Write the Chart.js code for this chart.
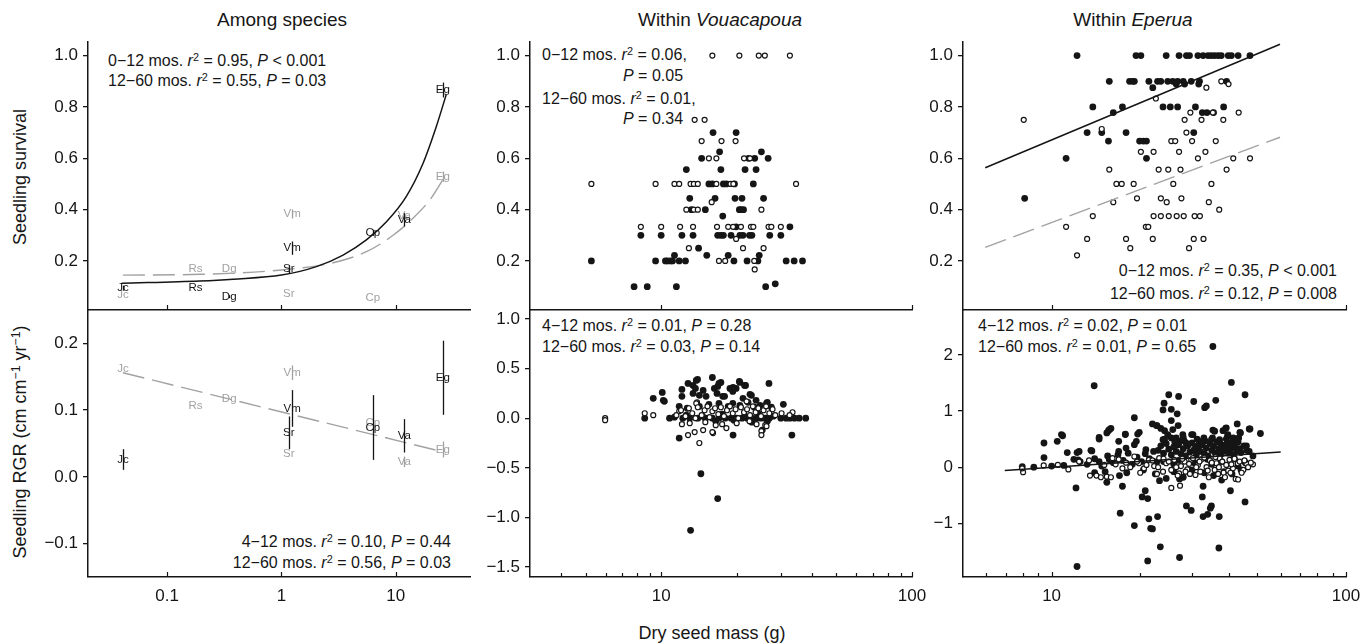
<!DOCTYPE html>
<html><head><meta charset="utf-8">
<script src="https://cdn.jsdelivr.net/npm/chart.js@4.4.1/dist/chart.umd.min.js"></script>
<style>
body{margin:0;width:1361px;height:643px;background:#fff;position:relative;overflow:hidden;font-family:"Liberation Sans",Arial,Helvetica,sans-serif;color:#161616}
canvas{position:absolute}
.t{position:absolute;white-space:nowrap;font-size:16px;line-height:1}
.l{transform:translateY(-50%)}
.r{transform:translate(-100%,-50%)}
.c{transform:translate(-50%,-50%)}
.h{font-size:18px}
.ht{font-size:19px}
.v{transform:translate(-50%,-50%) rotate(-90deg);font-size:18px}
sup{font-size:0.68em;vertical-align:0.5em;line-height:0}
</style></head><body>
<div class="t c ht" style="left:282px;top:19px">Among species</div>
<div class="t c ht" style="left:720px;top:19px">Within <i>Vouacapoua</i></div>
<div class="t c ht" style="left:1133px;top:19px">Within <i>Eperua</i></div>
<div class="t v" style="left:20px;top:177px">Seedling survival</div>
<div class="t v" style="left:20px;top:442px">Seedling RGR (cm cm<sup>−1</sup> yr<sup>−1</sup>)</div>
<div class="t c h" style="left:712px;top:633px">Dry seed mass (g)</div>

<div class="t l" style="left:108px;top:61px">0−12 mos. <i>r</i><sup>2</sup> = 0.95, <i>P</i> &lt; 0.001</div>
<div class="t l" style="left:108px;top:81px">12−60 mos. <i>r</i><sup>2</sup> = 0.55, <i>P</i> = 0.03</div>
<div class="t r" style="left:451px;top:542px">4−12 mos. <i>r</i><sup>2</sup> = 0.10, <i>P</i> = 0.44</div>
<div class="t r" style="left:451px;top:563px">12−60 mos. <i>r</i><sup>2</sup> = 0.56, <i>P</i> = 0.03</div>

<div class="t l" style="left:542px;top:55px">0−12 mos. <i>r</i><sup>2</sup> = 0.06,</div>
<div class="t l" style="left:623px;top:76px"><i>P</i> = 0.05</div>
<div class="t l" style="left:542px;top:99px">12−60 mos. <i>r</i><sup>2</sup> = 0.01,</div>
<div class="t l" style="left:623px;top:119px"><i>P</i> = 0.34</div>
<div class="t l" style="left:542px;top:326px">4−12 mos. <i>r</i><sup>2</sup> = 0.01, <i>P</i> = 0.28</div>
<div class="t l" style="left:542px;top:347px">12−60 mos. <i>r</i><sup>2</sup> = 0.03, <i>P</i> = 0.14</div>

<div class="t r" style="left:1337px;top:271px">0−12 mos. <i>r</i><sup>2</sup> = 0.35, <i>P</i> &lt; 0.001</div>
<div class="t r" style="left:1337px;top:294px">12−60 mos. <i>r</i><sup>2</sup> = 0.12, <i>P</i> = 0.008</div>
<div class="t l" style="left:978px;top:326px">4−12 mos. <i>r</i><sup>2</sup> = 0.02, <i>P</i> = 0.01</div>
<div class="t l" style="left:978px;top:347px">12−60 mos. <i>r</i><sup>2</sup> = 0.01, <i>P</i> = 0.65</div>

<script>
// ---------- tick values ----------
const leftXTicks = [0.1, 1, 10];
const vouXTicks = [10, 100];
const vouXMinor = [4,5,6,7,8,9,20,30,40,50,60,70,80,90];
const epeXTicks = [10, 100];
const epeXMinor = [6,7,8,9,20,30,40,50,60,70,80,90];
const survYTicks = [0.2, 0.4, 0.6, 0.8, 1.0];
const leftRgrYTicks = [-0.1, 0, 0.1, 0.2];
const vouRgrYTicks = [-1.5, -1, -0.5, 0, 0.5, 1];
const epeRgrYTicks = [-1, 0, 1, 2];

// ---------- among species ----------
const speciesCodes = ['Jc','Rs','Dg','Sr','Vm','Cp','Va','Eg'];
const speciesMass = [0.041, 0.177, 0.349, 1.16, 1.24, 6.3, 11.9, 25.8];
const surv0_12 = [0.094, 0.097, 0.061, 0.168, 0.25, 0.31, 0.36, 0.866];
const surv0_12Err = [0.01, 0, 0.006, 0.015, 0.026, 0.012, 0.026, 0.029];
const surv12_60 = [0.067, 0.168, 0.168, 0.071, 0.383, 0.058, 0.375, 0.528];
const surv12_60Err = [0, 0, 0, 0, 0.018, 0, 0.01, 0.02];
const rgr4_12 = [0.026, null, null, 0.066, 0.1025, 0.074, 0.0615, 0.1485];
const rgr4_12Err = [0.0155, 0, 0, 0.0245, 0.0275, 0.0485, 0.025, 0.0555];
const rgr12_60 = [0.1625, 0.1065, 0.1165, 0.035, 0.156, 0.081, 0.0225, 0.041];
const rgr12_60Err = [0, 0, 0, 0, 0.011, 0, 0.008, 0.012];
const survFit0_12 = [[0.04,0.113],[0.193,0.122],[0.378,0.129],[1.0,0.145],[2.02,0.178],[3.46,0.223],[5.53,0.282],[8.29,0.353],[12.3,0.45],[17.3,0.58],[22.6,0.723],[27.6,0.847]];
const survFit12_60 = [[0.041,0.145],[0.194,0.148],[1.0,0.165],[2.83,0.193],[5.53,0.236],[9.47,0.3],[14.1,0.366],[19.8,0.437],[25.8,0.516]];
const rgrFit12_60 = [[0.041,0.156],[25.8,0.0375]];

// ---------- Vouacapoua ----------
const vouSurv0_12 = [[5.27,0.2],[7.8,0.1],[8.8,0.1],[11.5,0.1],[26.1,0.1],[28.5,0.111],
[9.5,0.2],[10.4,0.2],[10.6,0.2],[10.9,0.2],[11.1,0.2],[11.8,0.2],[12.5,0.2],[19.5,0.2],[22.0,0.2],[24.3,0.2],[31.5,0.2],[33.9,0.2],[36.6,0.2],
[11.3,0.222],[15.2,0.222],[18.5,0.222],[24.6,0.222],[14.1,0.25],
[8.3,0.3],[10.0,0.3],[12.1,0.3],[13.4,0.3],[16.8,0.3],[17.3,0.3],[17.7,0.3],[19.0,0.3],[20.6,0.3],[21.2,0.3],[22.5,0.3],[23.0,0.3],[27.1,0.3],[30.0,0.3],
[19.9,0.333],[32.6,0.333],[17.6,0.375],
[13.2,0.4],[15.0,0.4],[20.5,0.4],[20.8,0.4],[21.3,0.4],
[13.0,0.444],[16.4,0.444],[19.7,0.444],[21.0,0.444],[25.6,0.444],
[15.5,0.5],[16.0,0.5],[17.7,0.5],[18.2,0.5],[19.6,0.5],[23.3,0.5],
[12.6,0.556],[17.3,0.556],[21.6,0.556],[23.9,0.556],
[14.5,0.6],[22.3,0.6],[23.6,0.6],[26.7,0.6],[17.1,0.625],[25.1,0.625],[16.1,0.7],[19.9,0.7]];
const vouSurv12_60 = [[16.0,1.0],[20.5,1.0],[24.5,1.0],[25.9,1.0],[32.6,1.0],
[13.6,0.75],[14.9,0.75],[14.5,0.667],[17.4,0.667],[19.8,0.667],
[15.5,0.6],[16.6,0.6],[21.4,0.6],[22.6,0.6],
[5.27,0.5],[9.5,0.5],[11.3,0.5],[11.8,0.5],[13.1,0.5],[13.5,0.5],[14.0,0.5],[16.6,0.5],[18.9,0.5],[19.4,0.5],[34.5,0.5],
[15.9,0.429],[12.6,0.4],[13.5,0.4],[14.0,0.4],[25.1,0.4],
[8.3,0.333],[10.0,0.333],[11.9,0.333],[13.4,0.333],[16.7,0.333],[18.5,0.333],[19.35,0.333],[20.8,0.333],[22.8,0.333],[23.3,0.333],[26.8,0.333],[27.5,0.333],[30.0,0.333],
[19.9,0.286],[12.9,0.25],[21.2,0.25],[25.6,0.25],
[17.0,0.2],[18.0,0.2],[23.5,0.2],[23.6,0.167]];
const vouRgr4_12 = [[13.1,-1.13],[16.8,-0.81],[14.4,-0.56],[11.8,-0.2],[19.35,-0.17],[33.2,-0.17],[25.3,-0.12],
[9.3,0.2],[10.1,0.26],[10.3,0.17],[12.1,0.29],[12.8,0.35],[13.4,0.33],[13.8,0.38],[13.97,0.39],[13.7,0.3],[14.7,0.28],[15.1,0.22],[16.0,0.41],[16.3,0.3],[16.8,0.32],[17.0,0.35],[17.3,0.36],[17.6,0.22],[18.8,0.3],[19.35,0.31],[19.9,0.3],[20.5,0.37],[20.6,0.36],[21.5,0.33],[21.7,0.33],[22.6,0.24],[22.9,0.23],[23.9,0.18],[26.3,0.15],[26.9,0.35],[26.5,0.16],[30.7,0.14],
[12.1,0.22],[13.4,0.25],[14.2,0.23],[16.7,0.25],[17.9,0.22],[19.3,0.27],[21.2,0.2],[19.3,0.15],[10.2,0.18],[11.8,0.12],[12.7,0.1],[14.2,0.12],[15.5,0.14],[17.0,0.15],[18.5,0.12],[20.6,0.13],[22.2,0.16],[23.5,0.11],[24.8,0.13],[27.5,0.11],
[8.6,0],[10.8,0],[11.3,0.01],[12.2,0],[13.0,0],[14.0,0],[15.0,0],[16.0,0],[17.0,0],[18.0,0],[19.0,0],[20.0,0],[21.0,0],[22.0,0],[23.0,0],[24.0,0],[25.0,0],[26.0,0],[27.0,0],[30.0,0],[31.5,0],[32.6,0],[34.0,0],[35.5,0],[37.7,0],
[12.6,0.03],[14.6,0.02],[17.5,0.04],[21.5,0.02],[24.5,0.04],[28.0,0.02],[16.5,-0.03],[19.5,-0.02],[23.0,-0.04],[26.5,-0.03]];
const vouRgr12_60 = [[5.98,0.0],[5.98,-0.02],[8.6,0.05],[9.3,0.03],[11.8,0.07],[12.1,-0.06],[12.8,-0.17],[13.6,-0.14],[14.2,-0.25],[13.9,0.16],[14.7,-0.12],[16.1,-0.15],[16.5,-0.07],[18.2,-0.1],[25.1,-0.13],[26.0,-0.07],[25.1,-0.17],[16.0,-0.14],[13.8,0.15],[21.9,0.17],
[11.5,0.03],[12.0,0.08],[12.5,0.02],[12.9,0.1],[13.3,0.05],[13.7,0.0],[14.0,0.11],[14.5,0.03],[14.9,0.08],[15.3,0.12],[15.6,0.01],[16.0,0.07],[16.4,0.1],[16.9,0.04],[17.3,0.11],[17.8,0.02],[18.3,0.08],[18.8,0.12],[19.3,0.05],[19.8,0.09],[20.3,0.0],[20.8,0.11],[21.4,0.06],[22.0,0.09],[22.6,0.03],[23.2,0.12],[23.8,0.06],[24.4,0.1],[25.0,0.02],[25.6,0.08],[26.2,0.12],[27.0,0.05],[27.8,0.09],[28.5,0.03],
[13.0,-0.05],[15.0,-0.04],[17.5,-0.06],[20.0,-0.05],[22.5,-0.03],[24.0,-0.06],[30.2,0.05],[33.4,0.06],[32.5,0.03],[26.3,-0.08]];

// ---------- Eperua ----------
const epeSurv0_12 = [[12.2,1.0],[19.35,1.0],[20.1,1.0],[24.5,1.0],[27.1,1.0],[28.7,1.0],[29.4,1.0],[31.4,1.0],[32.7,1.0],[34.0,1.0],[34.9,1.0],[35.8,1.0],[36.8,1.0],[37.7,1.0],[39.8,1.0],[40.8,1.0],[43.0,1.0],[47.2,1.0],
[15.7,0.9],[18.4,0.9],[18.85,0.9],[19.1,0.9],[21.4,0.9],[22.9,0.9],[23.5,0.9],[24.8,0.9],[25.8,0.9],[26.8,0.9],[28.0,0.9],[29.8,0.9],[31.8,0.9],[39.3,0.9],
[28.3,0.889],[26.5,0.889],[31.6,0.889],[22.06,0.875],
[13.8,0.8],[17.4,0.8],[23.9,0.8],[25.3,0.8],[26.8,0.8],[30.8,0.8],[38.4,0.8],
[16.2,0.778],[32.5,0.778],[33.7,0.778],[35.5,0.778],
[13.2,0.7],[14.8,0.7],[17.9,0.7],[30.4,0.7],
[15.6,0.667],[19.9,0.667],[20.5,0.667],[21.0,0.667],
[11.2,0.6],[21.0,0.6],[8.1,0.444]];
const epeSurv12_60 = [[37.7,0.9],[39.9,0.889],[33.55,0.875],[22.6,0.833],
[29.6,0.778],[35.3,0.778],[43.2,0.778],
[8.04,0.75],[28.3,0.75],[32.3,0.75],[38.3,0.75],[14.8,0.714],[28.7,0.7],
[25.5,0.667],[26.3,0.667],[30.0,0.667],[36.1,0.667],
[20.1,0.625],[22.2,0.625],[27.1,0.625],[33.3,0.625],
[31.4,0.6],[41.4,0.6],[47.2,0.6],
[15.7,0.556],[23.1,0.556],[24.9,0.556],[27.4,0.556],[39.3,0.556],
[16.6,0.5],[17.3,0.5],[19.0,0.5],[25.9,0.5],[34.9,0.5],
[19.5,0.444],[23.5,0.444],[27.6,0.444],
[16.2,0.429],[24.6,0.429],[34.2,0.429],[37.1,0.4],
[13.8,0.375],[22.2,0.375],[23.5,0.375],[25.0,0.375],[26.6,0.375],[28.1,0.375],[30.6,0.375],[31.9,0.375],
[11.2,0.333],[20.9,0.333],[21.3,0.333],
[13.2,0.286],[17.9,0.286],[22.06,0.286],[30.4,0.286],[32.8,0.286],
[18.5,0.25],[29.3,0.25],[12.2,0.222]];
const epeSurvFit0_12 = [[5.95,0.563],[59.7,1.044]];
const epeSurvFit12_60 = [[5.95,0.253],[59.7,0.682]];
const epeRgr4_12 = [[35.3,2.15],[13.95,1.45],[40.8,1.51],[45.4,1.29],[25.0,1.29],[27.0,1.26],[30.4,1.17],[36.1,1.19],[33.1,1.06],[33.55,1.09],[24.1,1.14],[23.9,1.02],[25.5,1.03],[26.7,0.95],[19.1,0.88],[25.5,0.83],[26.9,0.74],[22.0,0.77],[22.8,0.74],[23.5,0.69],[24.2,0.65],[39.0,0.69],[42.7,0.77],[38.2,0.65],[39.6,0.55],[47.2,0.68],[51.2,0.6],[35.3,0.66],[35.8,0.64],[43.6,0.62],[15.6,0.65],[15.9,0.69],[10.45,0.46],[10.9,0.56],[9.42,0.43],[14.5,0.53],[17.8,0.58],[19.6,0.59],[19.85,0.62],[16.9,0.46],[30.2,0.58],[28.0,0.53],[11.3,0.26],[12.2,0.26],[12.3,0.13],[13.7,0.29],[9.42,0.17],[8.7,0],[7.95,0.01],
[12.1,-0.37],[15.4,-0.27],[17.4,-0.34],[17.1,-0.82],[19.1,-1.04],[20.3,-0.53],[21.2,-0.56],[20.8,-0.42],[21.4,-0.92],[21.7,-1.09],[22.0,-1.1],[22.9,-0.88],[23.4,-1.42],[21.2,-1.67],[27.2,-1.61],[12.2,-1.77],[28.7,-0.69],[29.8,-0.77],[32.7,-0.34],[32.5,-0.53],[32.7,-0.88],[33.9,-0.84],[34.9,-0.69],[34.6,-0.73],[37.1,-0.88],[37.0,-1.44],[40.5,-0.42],[45.4,-0.62],[27.2,-0.21],[23.25,-0.24],[37.8,-0.23],
[10.8,0.58],[11.9,0.14],[12.4,0.28],[13.6,0.3],[14.5,0.5],[15.4,0.61],[15.7,0.67],[17.8,0.59],[19.4,0.46],[19.1,0.4],[17.9,0.34],[16.9,0.28],[15.7,0.13],[14.5,0.1],[20.9,0.31],[22.7,0.74],[23.9,0.49],[24.8,0.58],[25.5,0.52],[25.8,0.67],[26.5,0.52],[27.2,0.46],[27.9,0.58],[28.6,0.43],[29.9,0.58],[30.9,0.37],[31.7,0.46],[32.9,0.52],[34.9,0.49],[37.2,0.49],[39.2,0.7],[39.7,0.58],[41.4,0.52],[43.8,0.61],[46.9,0.68],[45.9,0.38],[48.3,0.2],[46.9,0.28],
[23.0,0.3],[23.5,0.38],[24.0,0.25],[24.5,0.42],[25.0,0.32],[25.5,0.22],[26.0,0.36],[26.5,0.28],[27.0,0.4],[27.5,0.24],[28.0,0.33],[28.5,0.2],[29.0,0.38],[29.5,0.27],[30.0,0.43],[30.5,0.31],[31.0,0.22],[31.5,0.36],[32.0,0.28],[32.5,0.4],[33.0,0.24],[33.5,0.34],[34.0,0.2],[34.5,0.42],[35.0,0.3],[35.5,0.37],[36.0,0.25],[36.5,0.45],[37.0,0.33],[37.5,0.22],[38.0,0.39],[38.5,0.28],[39.0,0.35],[39.5,0.43],[40.0,0.25],[40.5,0.32],[41.0,0.4],[41.5,0.22],[42.0,0.36],[42.5,0.29],[43.0,0.45],[43.5,0.33],[44.0,0.26],[45.0,0.38],[46.0,0.3],
[24.2,0.5],[26.2,0.45],[28.2,0.47],[31.2,0.5],[33.2,0.47],[35.2,0.52],[37.2,0.44],[39.2,0.5],[41.2,0.47],[43.2,0.52],
[13.2,0.05],[14.0,0.15],[14.8,0.02],[15.5,0.2],[16.2,0.08],[16.8,0.22],[17.5,0.12],[18.2,0.25],[18.8,0.05],[19.5,0.18],[20.2,0.1],[20.8,0.24],[21.5,0.15],[22.2,0.28],[22.8,0.1],[12.5,0.1],[11.0,0.03],[10.0,0.02],
[15.2,-0.08],[18.0,-0.1],[20.5,-0.05],[22.5,-0.12],[24.5,-0.2],[26.0,-0.08],[28.0,-0.18],[30.0,-0.05],[33.0,-0.1],[35.5,-0.15],[38.5,-0.08],[41.0,-0.12],[44.0,-0.05],[17.0,-0.15],[14.0,-0.1],
[24.0,0.1],[27.0,0.12],[30.5,0.08],[33.8,0.14],[37.8,0.1],[41.8,0.15],[45.5,0.08],[26.0,0.05],[35.0,0.05],[43.0,0.02]];
const epeRgr12_60 = [[8.0,-0.09],[7.94,-0.02],[9.4,0.03],[10.5,0.04],[11.4,-0.04],[12.4,0.1],[13.4,0.12],[14.2,-0.15],[14.7,-0.18],[15.4,-0.17],[15.9,-0.18],[13.5,-0.15],[15.1,0.04],[16.1,0.16],[16.9,0.14],[17.4,-0.02],[17.9,0.08],[19.1,0.19],[19.8,0.07],[20.6,-0.02],[21.4,0.13],[22.3,0.02],[23.2,0.16],[23.9,-0.08],[24.5,0.07],[25.5,-0.05],[26.1,0.13],[27.1,-0.11],[27.5,0.02],[28.3,0.1],[28.9,-0.04],[29.8,0.13],[30.8,-0.14],[31.4,0.04],[32.3,0.14],[33.6,0],[34.5,0.12],[35.8,-0.05],[36.3,0.07],[37.2,0.16],[38.4,-0.1],[39.2,0.04],[40.2,0.13],[41.3,-0.02],[42.2,-0.21],[42.9,0.07],[44.8,-0.05],[45.9,0.06],[48.3,0.05],[25.5,-0.37],[27.3,-0.33],
[16.5,0.05],[18.5,0.0],[19.5,0.1],[21.0,0.04],[22.0,0.12],[23.0,0.0],[24.0,0.15],[25.0,0.1],[26.5,0.0],[27.8,0.15],[28.5,-0.08],[29.3,0.06],[30.2,0.16],[31.0,0.0],[31.8,0.1],[33.0,0.17],[33.9,-0.06],[35.0,0.08],[36.0,0.18],[37.0,0.0],[38.0,0.1],[39.8,-0.06],[40.8,0.05],[41.8,0.15],[43.5,0.1],[44.2,-0.1],[45.2,0.12],[46.5,0.0],[47.5,0.08],[20.0,-0.1],[22.8,-0.12],[26.8,-0.15],[29.5,-0.12],[32.0,-0.08],[34.2,-0.18],[36.8,-0.12],[38.8,-0.18],[40.5,-0.1],[43.0,-0.22]];
const epeRgrFit = [[6.93,-0.06],[60,0.27]];

// ---------- rendering ----------
Chart.defaults.font.family = '"Liberation Sans", Arial, Helvetica, sans-serif';
const INK = '#151515', GREY = '#a2a2a2';
const pts = a => a.map(p => ({x: p[0], y: p[1]}));

const innerTicks = {
  id: 'innerTicks',
  afterDraw(chart, args, opts) {
    if (!opts || !opts.major) return;
    const ctx = chart.ctx, bottom = chart.chartArea.bottom, sx = chart.scales.x;
    ctx.save(); ctx.strokeStyle = INK; ctx.lineWidth = 1.2;
    const draw = (vals, len) => vals.forEach(v => {
      const px = Math.round(sx.getPixelForValue(v)) + 0.5;
      ctx.beginPath(); ctx.moveTo(px, bottom); ctx.lineTo(px, bottom - len); ctx.stroke();
    });
    draw(opts.major, 5); draw(opts.minor || [], 4);
    ctx.restore();
  }
};
const speciesText = {
  id: 'speciesText',
  afterDatasetsDraw(chart) {
    const ctx = chart.ctx, ys = chart.scales.y;
    chart.data.datasets.forEach((ds, di) => {
      if (!ds.codes) return;
      const meta = chart.getDatasetMeta(di);
      ctx.save();
      ctx.fillStyle = ds.ink; ctx.strokeStyle = ds.ink; ctx.lineWidth = 1.3;
      ctx.font = '11.5px "Liberation Sans", Arial, sans-serif';
      ctx.textAlign = 'center'; ctx.textBaseline = 'middle';
      meta.data.forEach((el, i) => {
        const e = ds.errs[i], v = ds.data[i].y;
        if (e) {
          const px = Math.round(el.x) + 0.5;
          ctx.beginPath(); ctx.moveTo(px, ys.getPixelForValue(v + e)); ctx.lineTo(px, ys.getPixelForValue(v - e)); ctx.stroke();
        }
        ctx.fillText(ds.codes[i], el.x, el.y);
      });
      ctx.restore();
    });
  }
};

function speciesSet(vals, errs, ink) {
  const idx = vals.map((v, i) => i).filter(i => vals[i] !== null);
  return {
    data: idx.map(i => ({x: speciesMass[i], y: vals[i]})),
    codes: idx.map(i => speciesCodes[i]),
    errs: idx.map(i => errs[i]),
    ink: ink, pointRadius: 0, showLine: false
  };
}
function filledSet(a) { return {data: pts(a), pointRadius: 3.4, backgroundColor: INK, borderColor: INK, borderWidth: 0, order: 2}; }
function openSet(a) { return {data: pts(a), pointRadius: 2.5, backgroundColor: '#fff', borderColor: INK, borderWidth: 1.2, order: 1}; }
function lineSet(a, color, dashed, curved) {
  return {data: pts(a), showLine: true, pointRadius: 0, borderColor: color, borderWidth: dashed ? 1.4 : 1.5,
    borderDash: dashed ? [22, 8] : [], fill: false, cubicInterpolationMode: curved ? 'monotone' : 'default', tension: 0, order: 0};
}
const fmt = d => v => (Math.abs(v) < 1e-9 ? 0 : v).toFixed(d).replace('-', '−');

function panel(rect, xr, yr, cfg) {
  const AXW = 80, PT = 14, PR = 28, XH = 40;
  const cv = document.createElement('canvas');
  cv.width = AXW + rect.w + PR; cv.height = PT + rect.h + XH;
  cv.style.left = (rect.x - AXW) + 'px'; cv.style.top = (rect.y - PT) + 'px';
  document.body.appendChild(cv);
  return new Chart(cv, {
    type: 'scatter',
    data: {datasets: cfg.datasets},
    options: {
      responsive: false, animation: false, devicePixelRatio: 1, events: [],
      layout: {padding: {left: 0, top: PT, right: PR, bottom: 0}, autoPadding: false},
      plugins: {legend: {display: false}, tooltip: {enabled: false},
        innerTicks: {major: cfg.xTicks, minor: cfg.xMinor || []}},
      scales: {
        x: {type: 'logarithmic', min: xr[0], max: xr[1],
          afterFit: s => { s.height = XH; s.paddingLeft = 0; s.paddingRight = 0; },
          afterBuildTicks: s => { s.ticks = cfg.xTicks.map(v => ({value: v})); },
          grid: {display: false, drawTicks: false},
          border: {display: true, color: INK, width: 1.5},
          ticks: {display: !!cfg.xLabels, color: INK, font: {size: 17}, padding: 9, maxRotation: 0, autoSkip: false, callback: v => String(v)}},
        y: {type: 'linear', min: yr[0], max: yr[1],
          afterFit: s => { s.width = AXW; s.paddingTop = 0; s.paddingBottom = 0; },
          afterBuildTicks: s => { s.ticks = cfg.yTicks.map(v => ({value: v})); },
          grid: {display: true, drawOnChartArea: false, drawTicks: true, tickLength: 5, color: INK, lineWidth: 1.3},
          border: {display: true, color: INK, width: 1.5},
          ticks: {color: INK, font: {size: 17}, padding: 5, callback: cfg.yFmt}}
      }
    },
    plugins: [innerTicks, speciesText]
  });
}

const colL = 88, colM = 530, colR = 963, W = 382;
const topRow = {y: 42, h: 268}, botRow = {y: 310, h: 267};

panel({x: colL, y: topRow.y, w: W, h: topRow.h}, [0.0203, 44.6], [0.009, 1.053], {
  xTicks: leftXTicks, yTicks: survYTicks, yFmt: fmt(1), xLabels: false,
  datasets: [lineSet(survFit0_12, INK, false, true), lineSet(survFit12_60, GREY, true, true),
    speciesSet(surv12_60, surv12_60Err, GREY), speciesSet(surv0_12, surv0_12Err, INK)]
});
panel({x: colL, y: botRow.y, w: W, h: botRow.h}, [0.0203, 44.6], [-0.15, 0.25], {
  xTicks: leftXTicks, yTicks: leftRgrYTicks, yFmt: fmt(1), xLabels: true,
  datasets: [lineSet(rgrFit12_60, GREY, true, false),
    speciesSet(rgr12_60, rgr12_60Err, GREY), speciesSet(rgr4_12, rgr4_12Err, INK)]
});
panel({x: colM, y: topRow.y, w: W, h: topRow.h}, [3, 100], [0.009, 1.053], {
  xTicks: vouXTicks, yTicks: survYTicks, yFmt: fmt(1), xLabels: false,
  datasets: [filledSet(vouSurv0_12), openSet(vouSurv12_60)]
});
panel({x: colM, y: botRow.y, w: W, h: botRow.h}, [3, 100], [-1.6, 1.09], {
  xTicks: vouXTicks, xMinor: vouXMinor, yTicks: vouRgrYTicks, yFmt: fmt(1), xLabels: true,
  datasets: [filledSet(vouRgr4_12), openSet(vouRgr12_60)]
});
panel({x: colR, y: topRow.y, w: W + 1, h: topRow.h}, [5, 100], [0.009, 1.053], {
  xTicks: epeXTicks, yTicks: survYTicks, yFmt: fmt(1), xLabels: false,
  datasets: [lineSet(epeSurvFit0_12, INK, false, false), lineSet(epeSurvFit12_60, GREY, true, false),
    filledSet(epeSurv0_12), openSet(epeSurv12_60)]
});
panel({x: colR, y: botRow.y, w: W + 1, h: botRow.h}, [5, 100], [-1.957, 2.8], {
  xTicks: epeXTicks, xMinor: epeXMinor, yTicks: epeRgrYTicks, yFmt: fmt(0), xLabels: true,
  datasets: [lineSet(epeRgrFit, INK, false, false), filledSet(epeRgr4_12), openSet(epeRgr12_60)]
});
</script>
</body></html>
